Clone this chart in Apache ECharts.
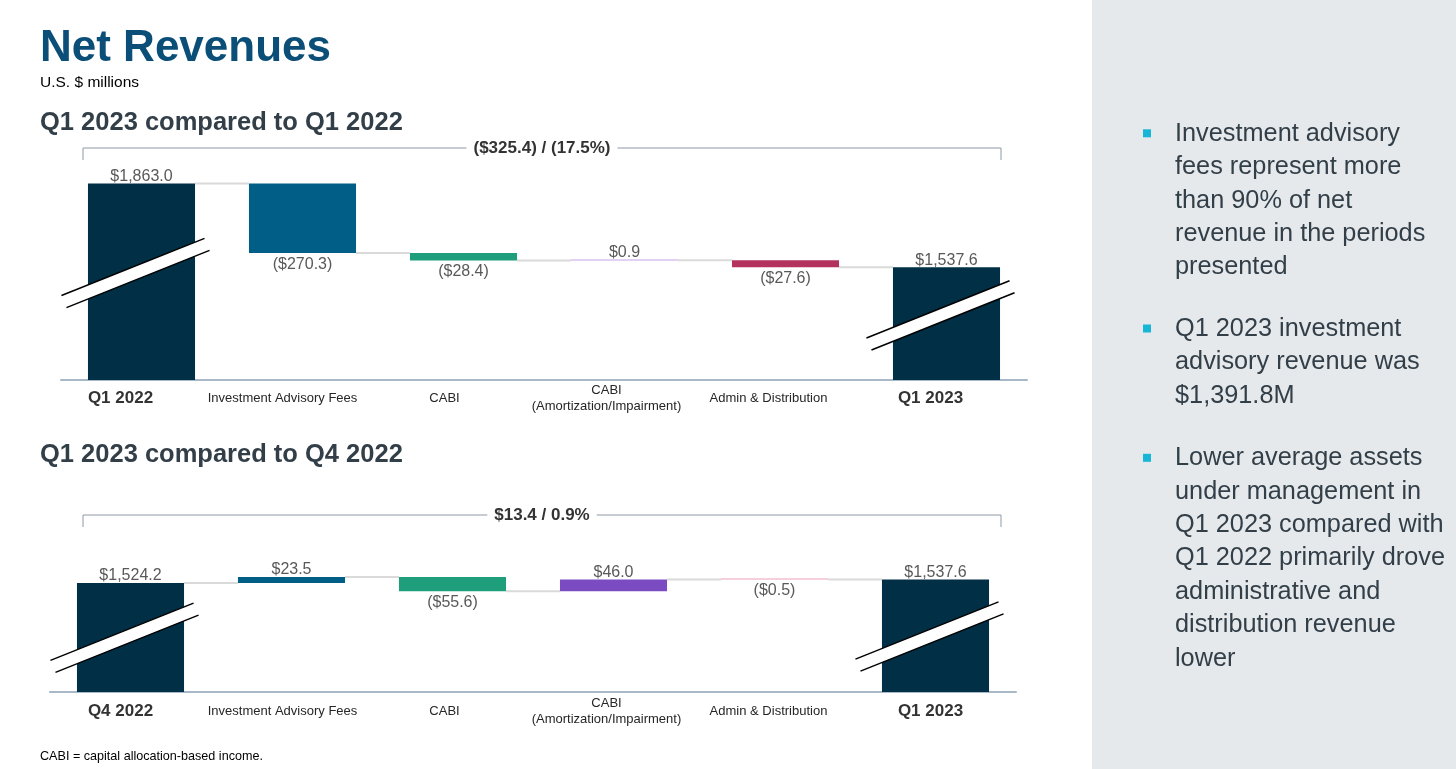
<!DOCTYPE html>
<html>
<head>
<meta charset="utf-8">
<title>Net Revenues</title>
<script src="https://cdn.jsdelivr.net/npm/echarts@6/dist/echarts.min.js"></script>
<style>
    html, body { margin: 0; padding: 0; background: #fff; }
    #myChart { width: 1456px; height: 769px; }
</style>
</head>
<body>
<div id="myChart"></div>
<script>
// Q1 2023 compared to Q1 2022
const categoriesQ1 = ['Q1 2022', 'Investment Advisory Fees', 'CABI', 'CABI\n(Amortization/Impairment)', 'Admin & Distribution', 'Q1 2023'];
const startQ1 = 1863.0;
const deltasQ1 = [-270.3, -28.4, 0.9, -27.6];
const endQ1 = 1537.6;
const changeQ1 = '($325.4) / (17.5%)';

// Q1 2023 compared to Q4 2022
const categoriesQ4 = ['Q4 2022', 'Investment Advisory Fees', 'CABI', 'CABI\n(Amortization/Impairment)', 'Admin & Distribution', 'Q1 2023'];
const startQ4 = 1524.2;
const deltasQ4 = [23.5, -55.6, 46.0, -0.5];
const endQ4 = 1537.6;
const changeQ4 = '$13.4 / 0.9%';

// right panel bullets
const bulletLines = [
    ['Investment advisory', 'fees represent more', 'than 90% of net', 'revenue in the periods', 'presented'],
    ['Q1 2023 investment', 'advisory revenue was', '$1,391.8M'],
    ['Lower average assets', 'under management in', 'Q1 2023 compared with', 'Q1 2022 primarily drove', 'administrative and', 'distribution revenue', 'lower']
];

const FONT = '"Liberation Sans", Arial, sans-serif';
const TOTAL = '#012f46';
const AXIS_MIN = 1100;
const BAR_W = 0.665;

// $1,234.5 / ($12.3)
const money = v => {
    let s = '$' + Math.abs(v).toLocaleString('en-US', {minimumFractionDigits: 1, maximumFractionDigits: 1});
    return v < 0 ? '(' + s + ')' : s;
};

const topLabel = text => ({position: 'top', distance: -1, formatter: text});
const bottomLabel = text => ({position: 'bottom', distance: 3, formatter: text});

// 透明底座 + 可见柱
const buildWaterfall = (start, deltas, end, colors) => {
    let base = [0];
    let bars = [{value: start, itemStyle: {color: TOTAL}, label: topLabel(money(start))}];
    let steps = [[0, start]];
    let run = start;
    deltas.forEach((d, i) => {
        let next = run + d;
        base.push(Math.min(run, next));
        bars.push({
            value: Math.abs(d),
            itemStyle: {color: colors[i]},
            label: d < 0 ? bottomLabel(money(d)) : topLabel(money(d))
        });
        run = next;
        steps.push([i + 1, run]);
    });
    base.push(0);
    bars.push({value: end, itemStyle: {color: TOTAL}, label: topLabel(money(end))});
    return {base, bars, steps, totals: [[0, start], [deltas.length + 1, end]]};
};

const connectorItem = (params, api) => {
    let i = api.value(0);
    let level = api.value(1);
    let p0 = api.coord([i, level]);
    let p1 = api.coord([i + 1, level]);
    let half = api.size([1, 0])[0] * BAR_W / 2;
    return {
        type: 'line',
        shape: {x1: p0[0] + half, y1: p0[1], x2: p1[0] - half, y2: p1[1]},
        style: {stroke: '#dadada', lineWidth: 2}
    };
};

// 断轴标记
const breakItem = fracs => (params, api) => {
    let i = api.value(0);
    let top = api.coord([i, api.value(1)]);
    let bottom = api.coord([i, AXIS_MIN]);
    let k = api.size([1, 0])[0] * BAR_W / 107;
    let cx = top[0];
    let cy = bottom[1] - fracs[params.dataIndex] * (bottom[1] - top[1]);
    let p = (dx, dy) => [cx + dx * k, cy + (dy - dx * 0.4) * k];
    return {
        type: 'group',
        children: [
            {type: 'polygon', shape: {points: [p(-80, -7), p(63, -7), p(68, 7), p(-75, 7)]}, style: {fill: '#fff'}},
            {type: 'polyline', shape: {points: [p(-80, -7), p(63, -7)]}, style: {stroke: '#000', lineWidth: 1.5, fill: null}},
            {type: 'polyline', shape: {points: [p(-75, 7), p(68, 7)]}, style: {stroke: '#000', lineWidth: 1.5, fill: null}}
        ]
    };
};

// 柱子所在的轴：只画轴线
const makeBarAxis = (gridIndex, data) => ({
    type: 'category',
    gridIndex,
    data,
    axisTick: {show: false},
    axisLabel: {show: false},
    axisLine: {lineStyle: {color: '#a9b8c6', width: 2}}
});

// 标签轴：幻灯片里的文字框比柱子略偏左
const makeLabelAxis = (gridIndex, data, margin) => ({
    type: 'category',
    gridIndex,
    data,
    axisTick: {show: false},
    axisLine: {show: false},
    axisLabel: {
        interval: 0,
        margin,
        verticalAlign: 'middle',
        fontSize: 13,
        lineHeight: 16,
        color: '#262626',
        fontFamily: FONT,
        formatter: (v, idx) => (idx === 0 || idx === data.length - 1) ? '{t|' + v + '}' : v,
        rich: {t: {fontSize: 17, fontWeight: 'bold', color: '#333', lineHeight: 20, fontFamily: FONT}}
    }
});

const makeSeries = (k, wf, breaks) => [
    {
        type: 'bar', xAxisIndex: k, yAxisIndex: k, stack: 'wf' + k, barWidth: BAR_W * 100 + '%',
        itemStyle: {color: 'transparent'}, silent: true, data: wf.base
    },
    {
        type: 'bar', xAxisIndex: k, yAxisIndex: k, stack: 'wf' + k, barWidth: BAR_W * 100 + '%',
        barMinHeight: 1,
        label: {show: true, fontSize: 16, color: '#595959', fontFamily: FONT},
        data: wf.bars
    },
    {type: 'custom', xAxisIndex: k, yAxisIndex: k, renderItem: connectorItem, data: wf.steps, z: 1, silent: true},
    {type: 'custom', xAxisIndex: k, yAxisIndex: k, renderItem: breakItem(breaks), data: wf.totals, z: 5, silent: true}
];

const bracket = (y, text) => [
    {
        type: 'polyline',
        shape: {points: [[83, y + 12], [83, y], [1001, y], [1001, y + 12]]},
        style: {stroke: '#8d99a3', lineWidth: 1, fill: null}
    },
    {
        type: 'text', x: 542, y: y,
        style: {text, font: 'bold 17px ' + FONT, fill: '#333', align: 'center', verticalAlign: 'middle',
            backgroundColor: '#fff', padding: [2, 7]}
    }
];

const textEl = (x, y, text, font, fill) => ({
    type: 'text', x, y,
    style: {text, font, fill, verticalAlign: 'middle'}
});

let wfQ1 = buildWaterfall(startQ1, deltasQ1, endQ1, ['#005e87', '#1f9e7b', '#c6a3ea', '#b3325e']);
let wfQ4 = buildWaterfall(startQ4, deltasQ4, endQ4, ['#005e87', '#1f9e7b', '#7b4cc1', '#eba2ba']);

let graphic = [
    {type: 'rect', shape: {x: 1092, y: 0, width: 364, height: 769}, style: {fill: '#e5e9ec'}, z: -10},
    textEl(40, 48.5, 'Net Revenues', 'bold 44px ' + FONT, '#0b4f78'),
    textEl(40, 83, 'U.S. $ millions', '15.5px ' + FONT, '#000'),
    textEl(40, 123, 'Q1 2023 compared to Q1 2022', 'bold 25.5px ' + FONT, '#333f48'),
    textEl(40, 454.5, 'Q1 2023 compared to Q4 2022', 'bold 25.5px ' + FONT, '#333f48'),
    textEl(40, 756.5, 'CABI = capital allocation-based income.', '12.6px ' + FONT, '#000'),
    ...bracket(148, changeQ1),
    ...bracket(515, changeQ4)
];

const bulletTops = [133.8, 329, 458.3];
bulletLines.forEach((lines, i) => {
    graphic.push({type: 'rect', shape: {x: 1143, y: bulletTops[i] - 4.5, width: 8, height: 8}, style: {fill: '#17b5d6'}});
    graphic.push({
        type: 'text', x: 1175, y: bulletTops[i] - 16.7,
        style: {text: lines.join('\n'), font: '25.3px ' + FONT, fill: '#333f48', verticalAlign: 'top', lineHeight: 33.4}
    });
});

let myChart = echarts.init(document.getElementById('myChart'));
myChart.setOption({
    animation: false,
    backgroundColor: '#fff',
    grid: [
        {left: 61, top: 183.5, width: 966, height: 196.5},
        {left: 50, top: 563.5, width: 966, height: 128.5},
        {left: 39.5, top: 379, width: 972, height: 1},
        {left: 39.5, top: 691, width: 972, height: 1}
    ],
    xAxis: [
        makeBarAxis(0, categoriesQ1),
        makeBarAxis(1, categoriesQ4),
        makeLabelAxis(2, categoriesQ1, 18),
        makeLabelAxis(3, categoriesQ4, 19)
    ],
    yAxis: [
        {type: 'value', gridIndex: 0, min: AXIS_MIN, max: 1863, show: false},
        {type: 'value', gridIndex: 1, min: AXIS_MIN, max: 1600, show: false},
        {type: 'value', gridIndex: 2, min: 0, max: 1, show: false},
        {type: 'value', gridIndex: 3, min: 0, max: 1, show: false}
    ],
    series: [
        ...makeSeries(0, wfQ1, [0.557, 0.595]),
        ...makeSeries(1, wfQ4, [0.52, 0.515])
    ],
    graphic
});
</script>
</body>
</html>
